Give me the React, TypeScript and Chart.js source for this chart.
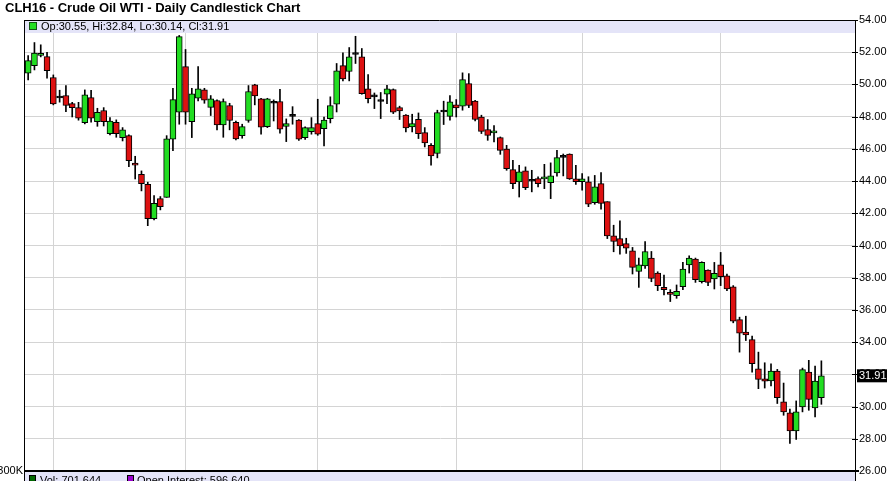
import React, { useEffect, useRef } from 'react';
import { Chart, registerables } from 'chart.js';

Chart.register(...registerables);

// Trading days (Jul 28 2015 - Jan 27 2016) plus empty slots to the right
const dates: string[] = [
  'Jul 28', 'Jul 29', 'Jul 30', 'Jul 31',
  'Aug 3', 'Aug 4', 'Aug 5', 'Aug 6', 'Aug 7', 'Aug 10', 'Aug 11', 'Aug 12', 'Aug 13', 'Aug 14',
  'Aug 17', 'Aug 18', 'Aug 19', 'Aug 20', 'Aug 21', 'Aug 24', 'Aug 25', 'Aug 26', 'Aug 27', 'Aug 28', 'Aug 31',
  'Sep 1', 'Sep 2', 'Sep 3', 'Sep 4', 'Sep 8', 'Sep 9', 'Sep 10', 'Sep 11', 'Sep 14', 'Sep 15', 'Sep 16',
  'Sep 17', 'Sep 18', 'Sep 21', 'Sep 22', 'Sep 23', 'Sep 24', 'Sep 25', 'Sep 28', 'Sep 29', 'Sep 30',
  'Oct 1', 'Oct 2', 'Oct 5', 'Oct 6', 'Oct 7', 'Oct 8', 'Oct 9', 'Oct 12', 'Oct 13', 'Oct 14', 'Oct 15',
  'Oct 16', 'Oct 19', 'Oct 20', 'Oct 21', 'Oct 22', 'Oct 23', 'Oct 26', 'Oct 27', 'Oct 28', 'Oct 29', 'Oct 30',
  'Nov 2', 'Nov 3', 'Nov 4', 'Nov 5', 'Nov 6', 'Nov 9', 'Nov 10', 'Nov 11', 'Nov 12', 'Nov 13', 'Nov 16',
  'Nov 17', 'Nov 18', 'Nov 19', 'Nov 20', 'Nov 23', 'Nov 24', 'Nov 25', 'Nov 27', 'Nov 30',
  'Dec 1', 'Dec 2', 'Dec 3', 'Dec 4', 'Dec 7', 'Dec 8', 'Dec 9', 'Dec 10', 'Dec 11', 'Dec 14', 'Dec 15',
  'Dec 16', 'Dec 17', 'Dec 18', 'Dec 21', 'Dec 22', 'Dec 23', 'Dec 24', 'Dec 28', 'Dec 29', 'Dec 30', 'Dec 31',
  'Jan 4', 'Jan 5', 'Jan 6', 'Jan 7', 'Jan 8', 'Jan 11', 'Jan 12', 'Jan 13', 'Jan 14', 'Jan 15', 'Jan 19',
  'Jan 20', 'Jan 21', 'Jan 22', 'Jan 25', 'Jan 26', 'Jan 27',
  'Jan 28', 'Jan 29', 'Feb 1', 'Feb 2', 'Feb 3',
];

const monthStarts: string[] = ['Aug 3', 'Sep 1', 'Oct 1', 'Nov 2', 'Dec 1', 'Jan 4'];

const opens: number[] = [
  50.70, 51.17, 51.80, 51.73, 50.43, 49.16, 49.31, 48.81, 48.56, 47.63,
  49.18, 47.69, 48.38, 46.95, 47.65, 46.70, 46.82, 45.11, 44.42, 43.80,
  41.67, 42.91, 42.99, 46.60, 48.27, 51.11, 47.69, 49.14, 49.66, 48.58,
  49.00, 47.49, 48.69, 47.65, 46.82, 47.76, 49.97, 49.10, 47.38, 48.83,
  48.94, 47.40, 48.02, 47.78, 46.70, 47.07, 47.57, 47.26, 47.88, 48.77,
  51.17, 50.80, 51.86, 51.71, 49.72, 49.23, 48.94, 49.39, 49.68, 48.56,
  48.09, 47.36, 47.84, 47.01, 46.22, 45.71, 48.29, 48.02, 48.73, 48.65,
  50.05, 48.96, 47.98, 47.20, 46.99, 46.70, 45.98, 44.71, 43.95, 44.63,
  43.99, 44.15, 44.13, 43.90, 44.51, 45.47, 45.67, 44.14, 43.96, 43.96,
  42.66, 43.84, 42.72, 40.60, 40.43, 40.12, 39.67, 38.39, 38.74, 39.22,
  38.29, 37.40, 37.09, 36.89, 37.44, 38.80, 39.15, 37.75, 38.47, 37.92,
  38.80, 38.12, 37.44, 35.40, 34.62, 34.16, 32.35, 31.73, 31.59, 32.21,
  30.29, 29.61, 28.49, 29.98, 32.14, 29.92, 30.55,
];

const highs: number[] = [
  51.79, 52.60, 52.46, 52.00, 50.59, 49.64, 49.93, 48.89, 48.89, 49.66,
  49.64, 48.52, 48.56, 47.94, 47.80, 47.32, 46.87, 45.54, 44.63, 43.93,
  43.10, 43.04, 46.82, 49.76, 53.04, 52.17, 49.76, 51.11, 49.76, 49.31,
  49.04, 49.10, 48.83, 47.73, 47.53, 49.93, 50.01, 49.14, 49.14, 49.04,
  49.70, 47.86, 48.62, 47.82, 47.36, 47.94, 49.08, 47.98, 49.23, 51.30,
  51.96, 52.29, 52.99, 52.23, 50.61, 49.47, 49.50, 49.95, 49.72, 48.65,
  48.13, 48.15, 48.23, 47.32, 46.33, 48.40, 48.96, 49.31, 49.06, 50.72,
  50.67, 49.02, 48.09, 47.82, 47.45, 46.74, 46.22, 45.29, 44.98, 44.88,
  44.67, 44.26, 45.04, 45.13, 45.91, 45.68, 45.69, 44.97, 44.47, 44.27,
  44.35, 44.52, 42.72, 41.26, 41.53, 40.45, 39.88, 39.22, 40.25, 39.63,
  38.37, 38.16, 37.26, 37.55, 38.95, 39.36, 39.22, 38.99, 38.49, 38.95,
  39.57, 38.23, 37.51, 35.55, 35.61, 34.37, 33.38, 32.72, 32.66, 32.31,
  31.46, 29.84, 30.35, 32.39, 32.87, 32.52, 32.84,
];

const lows: number[] = [
  50.28, 50.90, 51.71, 50.39, 48.73, 48.90, 48.31, 47.98, 47.78, 47.55,
  47.65, 47.40, 47.42, 46.87, 46.72, 46.49, 44.90, 44.13, 43.39, 41.23,
  41.59, 42.21, 42.99, 45.89, 47.53, 47.53, 46.70, 48.98, 48.83, 48.07,
  47.18, 46.72, 47.18, 46.56, 46.66, 47.65, 48.73, 46.91, 47.32, 47.73,
  46.97, 46.45, 47.53, 46.53, 46.58, 46.91, 46.84, 46.18, 47.61, 48.29,
  50.22, 50.22, 51.30, 49.39, 48.85, 48.50, 47.88, 48.81, 48.19, 47.82,
  47.05, 47.05, 46.64, 46.12, 44.98, 45.44, 47.51, 47.78, 47.98, 48.40,
  48.56, 47.74, 46.95, 46.53, 46.43, 45.66, 44.67, 43.53, 43.01, 43.47,
  43.33, 43.64, 43.53, 42.91, 44.30, 44.32, 44.10, 43.79, 43.44, 42.41,
  42.56, 42.25, 40.43, 39.61, 39.46, 39.51, 38.23, 37.40, 38.58, 37.75,
  37.20, 36.93, 36.52, 36.72, 37.26, 38.29, 37.71, 37.67, 37.51, 37.30,
  37.51, 37.20, 35.20, 33.38, 34.10, 32.14, 31.11, 31.15, 31.28, 30.19,
  29.46, 27.71, 27.96, 29.67, 29.77, 29.36, 30.14,
];

const closes: number[] = [
  51.48, 51.94, 51.92, 50.86, 48.79, 49.16, 48.69, 48.56, 47.90, 49.35,
  47.90, 48.27, 47.69, 47.73, 46.95, 47.18, 45.27, 44.98, 43.84, 41.67,
  42.62, 42.41, 46.62, 49.06, 52.97, 48.27, 49.41, 49.72, 49.02, 49.10,
  47.49, 48.94, 47.76, 46.62, 47.38, 49.56, 49.29, 47.34, 49.10, 48.83,
  47.22, 47.57, 48.02, 46.60, 47.32, 47.32, 46.91, 47.78, 48.69, 50.84,
  50.34, 51.71, 51.86, 49.43, 49.12, 49.23, 48.94, 49.72, 48.27, 48.36,
  47.30, 47.57, 46.95, 46.37, 45.56, 48.25, 48.29, 48.92, 48.54, 50.30,
  48.69, 47.82, 47.09, 46.84, 47.09, 45.91, 44.77, 43.84, 44.57, 43.59,
  43.99, 43.84, 44.26, 44.32, 45.46, 45.47, 44.14, 43.96, 44.14, 42.56,
  43.65, 42.62, 40.60, 40.25, 39.98, 39.84, 38.64, 38.80, 39.63, 37.96,
  37.51, 37.26, 36.97, 37.15, 38.54, 39.22, 37.88, 38.95, 37.71, 38.27,
  38.06, 37.30, 35.30, 34.56, 34.45, 32.66, 31.69, 31.57, 32.21, 30.56,
  29.67, 28.49, 29.67, 32.29, 30.45, 31.59, 31.91,
];

const yMin = 26;
const yMax = 54;
const yStep = 2;

const volumeLegend = 'Vol: 701,644';
const openInterestLegend = 'Open Interest: 596,640';
const titleText = 'CLH16 - Crude Oil WTI - Daily Candlestick Chart';
const axisTopLabel = '300K';

const UP = '#22dd22';
const DOWN = '#dd1111';
const BAND = '#e4e4f8';

const overlayPlugin = {
  id: 'overlay',
  beforeDatasetsDraw(chart: any) {
    const { ctx, chartArea: a } = chart;
    const n = closes.length - 1;
    const L = a.left - 1;
    const R = a.right - 1;
    ctx.save();
    // top legend band
    ctx.fillStyle = BAND;
    ctx.fillRect(L, a.top, R - L, 13);
    // legend square
    ctx.fillStyle = UP;
    ctx.fillRect(L + 5.5, a.top + 2.5, 7, 7);
    ctx.strokeStyle = '#115511';
    ctx.lineWidth = 1;
    ctx.strokeRect(L + 5.5, a.top + 2.5, 7, 7);
    ctx.fillStyle = '#000';
    ctx.font = '11px Arial, "Liberation Sans", sans-serif';
    ctx.textBaseline = 'middle';
    ctx.textAlign = 'left';
    const leg = `Op:${opens[n].toFixed(2)}, Hi:${highs[n].toFixed(2)}, Lo:${lows[n].toFixed(2)}, Cl:${closes[n].toFixed(2)}`;
    ctx.fillText(leg, L + 17, a.top + 7);
    ctx.restore();
  },
  afterDraw(chart: any) {
    const { ctx, chartArea: a, scales } = chart;
    const y = scales.y;
    const n = closes.length - 1;
    const L = a.left - 1;
    const R = a.right - 1;
    ctx.save();
    // frame: top, left and right axis line
    ctx.strokeStyle = '#000';
    ctx.lineWidth = 1;
    ctx.beginPath();
    ctx.moveTo(L, a.top + 0.5);
    ctx.lineTo(R, a.top + 0.5);
    ctx.moveTo(L + 0.5, a.top);
    ctx.lineTo(L + 0.5, chart.height);
    ctx.moveTo(R + 0.5, a.top);
    ctx.lineTo(R + 0.5, chart.height);
    ctx.stroke();
    // inner tick marks on right axis
    ctx.beginPath();
    y.ticks.forEach((t: any) => {
      const py = Math.round(y.getPixelForValue(t.value)) + 0.5;
      ctx.moveTo(R - 3, py);
      ctx.lineTo(R + 3, py);
    });
    ctx.stroke();
    // bottom band (volume panel header)
    ctx.fillStyle = BAND;
    ctx.fillRect(L + 1, a.bottom + 1, R - L - 1, chart.height - a.bottom);
    ctx.fillStyle = '#006600';
    ctx.fillRect(L + 5, a.bottom + 4, 6, 8);
    ctx.strokeStyle = '#000';
    ctx.strokeRect(L + 5.5, a.bottom + 4.5, 6, 8);
    ctx.fillStyle = '#9900cc';
    ctx.fillRect(L + 103, a.bottom + 4, 6, 8);
    ctx.strokeRect(L + 103.5, a.bottom + 4.5, 6, 8);
    ctx.fillStyle = '#000';
    ctx.font = '11px Arial, "Liberation Sans", sans-serif';
    ctx.textBaseline = 'middle';
    ctx.textAlign = 'left';
    ctx.fillText(volumeLegend, L + 16, a.bottom + 10);
    ctx.fillText(openInterestLegend, L + 113, a.bottom + 10);
    ctx.textAlign = 'right';
    ctx.fillText(axisTopLabel, L - 1, a.bottom);
    // thick bottom line
    ctx.fillStyle = '#000';
    ctx.fillRect(L, a.bottom - 1, R - L + 4, 2);
    // last price label
    const py = y.getPixelForValue(closes[n]);
    ctx.fillStyle = '#000';
    ctx.fillRect(R + 2, py - 6.5, 30, 13);
    ctx.fillStyle = '#fff';
    ctx.textAlign = 'left';
    ctx.fillText(closes[n].toFixed(2), R + 4, py + 0.5);
    // title
    ctx.fillStyle = '#000';
    ctx.font = 'bold 13px Arial, "Liberation Sans", sans-serif';
    ctx.textAlign = 'left';
    ctx.fillText(titleText, 5, 8.5);
    ctx.restore();
  },
};

export default function App() {
  const ref = useRef<HTMLCanvasElement | null>(null);

  useEffect(() => {
    if (!ref.current) return;
    const bodies = opens.map((o, i) => [Math.min(o, closes[i]), Math.max(o, closes[i])]);
    const wicks = lows.map((l, i) => [l, highs[i]]);
    const colors = opens.map((o, i) => (closes[i] > o ? UP : closes[i] < o ? DOWN : '#000'));

    const chart = new Chart(ref.current, {
      type: 'bar',
      data: {
        labels: dates,
        datasets: [
          {
            label: 'Body',
            data: bodies as any,
            backgroundColor: colors,
            borderColor: '#000',
            borderWidth: 1,
            borderSkipped: false,
            barThickness: 6,
            minBarLength: 2,
            grouped: false,
            order: 0,
          },
          {
            label: 'Wick',
            data: wicks as any,
            backgroundColor: '#000',
            borderWidth: 0,
            barThickness: 1,
            grouped: false,
            order: 1,
          },
        ],
      },
      options: {
        animation: false,
        responsive: false,
        maintainAspectRatio: false,
        layout: { padding: { left: 25, top: 20, right: 0, bottom: 10 } },
        plugins: {
          legend: { display: false },
          tooltip: { enabled: false },
          title: { display: false },
        },
        scales: {
          x: {
            type: 'category',
            offset: true,
            grid: {
              offset: false,
              drawTicks: false,
              color: (c: any) => (monthStarts.includes(dates[c.index]) ? '#d4d4d4' : 'rgba(0,0,0,0)'),
            },
            ticks: { display: false, autoSkip: false },
            border: { display: false },
          },
          y: {
            position: 'right',
            min: yMin,
            max: yMax,
            ticks: {
              stepSize: yStep,
              callback: (v: any) => Number(v).toFixed(2),
              color: '#000',
              font: { family: 'Arial, "Liberation Sans", sans-serif', size: 11 },
              padding: 3,
            },
            grid: { color: '#d4d4d4', drawTicks: false },
            border: { display: false },
            afterFit: (s: any) => {
              s.width = 34;
            },
          },
        },
      },
      plugins: [overlayPlugin],
    });
    return () => chart.destroy();
  }, []);

  return (
    <div style={{ position: 'fixed', left: 0, top: 0, width: 890, height: 481, background: '#fff' }}>
      <canvas ref={ref} width={890} height={481} style={{ display: 'block' }} />
    </div>
  );
}
